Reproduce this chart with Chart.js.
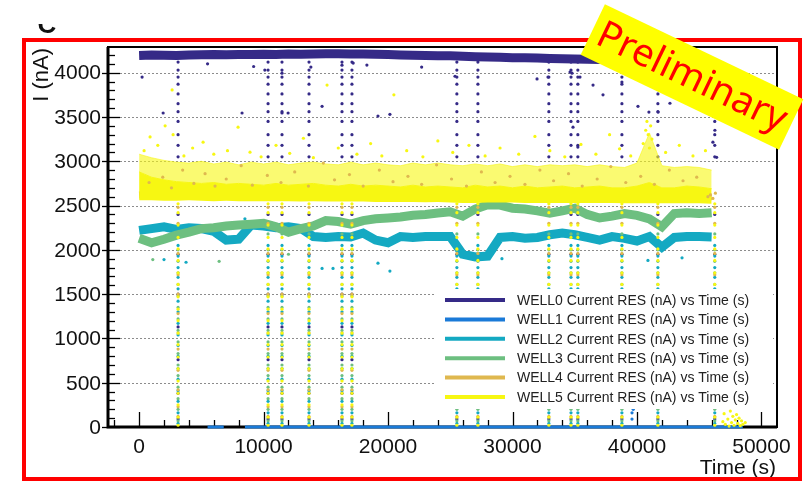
<!DOCTYPE html>
<html>
<head>
<meta charset="utf-8">
<script src="https://cdn.jsdelivr.net/npm/chart.js@4.4.0/dist/chart.umd.min.js"></script>
<style>
  html, body { margin: 0; padding: 0; background: #fff; }
  #wrap { width: 804px; height: 482px; }
</style>
</head>
<body>
<div id="wrap"><canvas id="well-chart" width="804" height="482"></canvas></div>
<script>
// time axis (s) for the main traces
const times = [0, 1000, 2000, 3000, 4000, 5000, 6000, 7000, 8000, 9000,
    10000, 11000, 12000, 13000, 14000, 15000, 16000, 17000, 18000, 19000,
    20000, 21000, 22000, 23000, 24000, 25000, 26000, 27000, 28000, 29000,
    30000, 31000, 32000, 33000, 34000, 35000, 36000, 37000, 38000, 39000,
    40000, 41000, 42000, 43000, 44000, 45000, 46000];

const well0 = [4195, 4200, 4198, 4195, 4200, 4202, 4205, 4203, 4206, 4205,
    4208, 4206, 4210, 4208, 4212, 4215, 4213, 4212, 4210, 4208,
    4205, 4200, 4198, 4195, 4192, 4190, 4185, 4180, 4178, 4175,
    4170, 4168, 4165, 4160, 4158, 4155, 4152, 4150, 4148, 4145,
    4145, 4142, 4140, 4138, 4135, 4132, 4130];

const well1Times = [5500, 6800, 7600, 8500, 20000, 30000, 40000, 48500];
const well1 = [0, 0, null, 0, 0, 0, 0, 0];

const well2 = [2220, 2240, 2260, 2230, 2250, 2240, 2210, 2110, 2120, 2280,
    2270, 2250, 2260, 2240, 2150, 2140, 2150, 2145, 2190, 2110,
    2080, 2150, 2140, 2150, 2150, 2150, 1950, 1920, 1930, 2140,
    2150, 2130, 2140, 2170, 2190, 2170, 2140, 2110, 2150, 2130,
    2100, 2150, 2030, 2140, 2150, 2150, 2145];

const well3 = [2130, 2080, 2120, 2166, 2200, 2240, 2250, 2270, 2280, 2290,
    2300, 2260, 2200, 2240, 2270, 2330, 2320, 2290, 2330, 2350,
    2360, 2370, 2390, 2400, 2415, 2430, 2380, 2460, 2510, 2505,
    2470, 2460, 2440, 2415, 2440, 2470, 2400, 2360, 2380, 2410,
    2390, 2350, 2260, 2410, 2420, 2410, 2420];

const well4 = [2620, 2630, 2620, 2610, 2620, 2615, 2620, 2610, 2615, 2620,
    2610, 2615, 2610, 2605, 2610, 2615, 2605, 2610, 2600, 2605,
    2600, 2600, 2605, 2595, 2600, 2595, 2590, 2600, 2595, 2590,
    2590, 2595, 2590, 2585, 2590, 2585, 2590, 2585, 2580, 2585,
    2580, 2590, 2580, 2585, 2580, 2590, 2600];

// WELL5: bottom and top of the dense band, top of the sparse cloud
const well5Low = [2560, 2560, 2555, 2555, 2560, 2555, 2550, 2555, 2550, 2550,
    2550, 2548, 2550, 2545, 2548, 2545, 2545, 2545, 2545, 2540,
    2540, 2540, 2540, 2538, 2540, 2535, 2530, 2530, 2535, 2535,
    2535, 2530, 2530, 2530, 2530, 2530, 2528, 2528, 2528, 2525,
    2525, 2525, 2525, 2525, 2525, 2525, 2520];
const well5High = [2880, 2820, 2790, 2770, 2760, 2750, 2760, 2740, 2750, 2740,
    2730, 2750, 2730, 2740, 2750, 2730, 2720, 2740, 2720, 2730,
    2720, 2710, 2730, 2710, 2720, 2710, 2700, 2730, 2710, 2720,
    2700, 2720, 2700, 2710, 2720, 2700, 2710, 2720, 2700, 2700,
    2720, 2760, 2700, 2700, 2720, 2710, 2690];
const well5Cloud = [3080, 3040, 3010, 2990, 2980, 3000, 2970, 2990, 2960, 2990,
    2970, 2990, 2960, 2980, 2990, 2970, 2960, 2990, 2960, 2980,
    2960, 2950, 2980, 2960, 2980, 2960, 2950, 2970, 2950, 2970,
    2940, 2960, 2940, 2960, 2950, 2960, 2940, 2960, 2940, 2930,
    2980, 3320, 2950, 2930, 2940, 2930, 2900];

// dropout streaks (s) and the levels seen along each streak
const dropTimes = [3130, 10360, 11480, 13650, 16300, 17100, 25530, 27220,
    32920, 34700, 35250, 38790, 41680, 46250];
const well0Drop = [4120, 4030, 3950, 3870, 3760, 3650, 3560, 3450, 3300, 3180,
    3050, 2400, 1950, 1500, 1130, 760, 380, 90];
const well2Drop = [2050, 1930, 1800, 1690, 1560, 1420, 1300, 1170, 1040, 920,
    800, 660, 540, 410, 290, 160, 40];
const well3Drop = [2180, 2000, 1870, 1740, 1610, 1480, 1350, 1220, 1090, 960,
    830, 700, 580, 450, 320, 200, 70];
const well4Drop = [2480, 2300, 1960, 1720, 1500, 1280, 1060, 880, 640, 420, 230, 120];
const well5Drop = [2520, 2420, 2280, 2140, 2010, 1880, 1740, 1610, 1470, 1330,
    1200, 1060, 930, 790, 660, 520, 380, 250, 110, 20];

// isolated points
const well0OutT = [240, 5500, 9200, 10100, 11480, 13800, 16300, 17200, 18300, 22700,
    25380, 1930, 8270, 11480, 11970, 14700, 19190, 20150, 31970, 32850,
    34780, 35420, 34620, 36470, 37270, 38790, 40080, 40960, 41700, 42650,
    34860, 35250, 46260, 46100, 46400];
const well0OutV = [3950, 4100, 4070, 4030, 3995, 4063, 4085, 4108, 4086, 4063,
    3960, 3545, 3545, 3545, 3545, 3620, 3510, 3530, 3930, 3950,
    3995, 3950, 4007, 3860, 3750, 3895, 3620, 3555, 3555, 3655,
    3385, 3160, 3350, 3216, 3045];
const well1OutT = [39600, 39600, 39700];
const well1OutV = [90, 160, 200];
const well2OutT = [2000, 3770, 14700, 15580, 19190, 20150, 29150, 40880, 43620, 8500, 24000];
const well2OutV = [1890, 1860, 1790, 1790, 1850, 1760, 1900, 1880, 1910, 2350, 2400];
const well3OutT = [1100, 6430, 12000];
const well3OutV = [1890, 1870, 1950];
const well4OutT = [800, 1900, 2600, 3500, 4400, 5300, 6100, 7000, 8200, 9100,
    10300, 11400, 12500, 13600, 14800, 15700, 16900, 18000, 19300, 20400,
    21600, 22700, 23900, 25100, 26300, 27500, 28600, 29800, 31000, 32200,
    33300, 34500, 35600, 36800, 37900, 39100, 40300, 41400, 42600, 43700,
    44800, 45700, 45900, 46100, 46300];
const well4OutV = [2760, 2820, 2700, 2900, 2750, 2860, 2720, 2800, 2950, 2730,
    2840, 2760, 2880, 2720, 2980, 2790, 2850, 2720, 2900, 2770,
    2830, 2740, 2960, 2800, 2720, 2880, 2760, 2830, 2740, 2900,
    2780, 2860, 2720, 2800, 2940, 2760, 2830, 2740, 2900, 2780,
    2820, 2600, 2620, 2580, 2640];
const well5OutT = [400, 880, 1500, 2090, 2650, 2730, 3600, 4300, 5140, 6000,
    7100, 7950, 8910, 9800, 11000, 12100, 13200, 14000, 15100, 16000,
    17500, 18600, 19500, 20470, 21500, 22800, 24000, 25200, 26500, 27800,
    29000, 30500, 31800, 33000, 34200, 35500, 36700, 37800, 38600, 39500,
    40500, 40700, 40800, 40900, 41000, 41100, 41200, 42300, 43400, 44500,
    45500, 46900, 47000, 47100, 47200, 47300, 47400, 47500, 47600, 47700,
    47800, 47900, 48000, 48100, 48200, 48300, 48400, 48500, 48700, 47350, 47050];
const well5OutV = [3120, 3275, 3180, 3400, 3805, 3300, 3060, 3150, 3216, 3080,
    3120, 3385, 3103, 3050, 3180, 3090, 3260, 3040, 3860, 3150,
    3080, 3200, 3060, 3750, 3120, 3050, 3230, 3100, 3180, 3060,
    3150, 3080, 3280, 3120, 3050, 3190, 3080, 3300, 3140, 3060,
    3200, 3350, 3450, 3300, 3150, 3400, 3250, 3100, 3180, 3060,
    3120, 60, 150, 30, 240, 90, 10, 180, 50, 120,
    20, 80, 140, 40, 100, 15, 70, 30, 50, 300, 420];

const wellNames = ['WELL0', 'WELL1', 'WELL2', 'WELL3', 'WELL4', 'WELL5'];
const wellColors = ['#352a87', '#1a7ad8', '#14a9c2', '#6dbf80', '#dfb84f', '#f7f712'];

const yTicks = [0, 500, 1000, 1500, 2000, 2500, 3000, 3500, 4000];
const xTicks = [0, 10000, 20000, 30000, 40000, 50000];

function pts(ts, vs) {
    return ts.map((t, i) => ({ x: t, y: vs[i] }));
}

function streak(levels) {
    return dropTimes.flatMap(t => levels.map(v => ({ x: t, y: v })));
}

function band(label, data, color, width, order) {
    return {
        type: 'line', label, data, borderColor: color, borderWidth: width,
        pointRadius: 0, fill: false, order, clip: false,
    };
}

function dots(data, color, order) {
    return {
        type: 'scatter', data, backgroundColor: color, pointRadius: 1.6,
        pointBorderWidth: 0, order, clip: false,
    };
}

const datasets = [
    band('w5low', pts(times, well5Low), 'rgba(0,0,0,0)', 0, 0),
    { ...band('w5high', pts(times, well5High), wellColors[5], 1, 0), fill: '-1', backgroundColor: wellColors[5] },
    { ...band('w5cloud', pts(times, well5Cloud), 'rgba(247,247,18,0.6)', 1, 0), fill: '-1', backgroundColor: 'rgba(247,247,18,0.6)' },
    dots(pts(well5OutT, well5OutV), wellColors[5], 0),
    dots(streak(well5Drop), wellColors[5], 0),

    dots(pts(well4OutT, well4OutV), wellColors[4], -1),
    band('w4', pts(times, well4), wellColors[4], 7, 1),
    dots(streak(well4Drop), wellColors[4], 1),

    band('w3', pts(times, well3), wellColors[3], 9, 2),
    dots(pts(well3OutT, well3OutV), wellColors[3], 2),
    dots(streak(well3Drop), wellColors[3], 2),

    band('w2', pts(times, well2), wellColors[2], 9, 3),
    dots(pts(well2OutT, well2OutV), wellColors[2], 3),
    dots(streak(well2Drop), wellColors[2], 3),

    band('w1', pts(well1Times, well1), wellColors[1], 3, 4),
    dots(pts(well1OutT, well1OutV), wellColors[1], 4),

    band('w0', pts(times, well0), wellColors[0], 9, 5),
    dots(pts(well0OutT, well0OutV), wellColors[0], 5),
    dots(streak(well0Drop), wellColors[0], 5),
];

const FONT = '"Liberation Sans", Arial, sans-serif';

const decorations = {
    id: 'decorations',
    beforeDatasetsDraw(chart) {
        const { ctx, chartArea: a, scales: { x, y } } = chart;
        ctx.save();
        // dotted grid
        ctx.strokeStyle = '#8c8c8c';
        ctx.lineWidth = 1;
        ctx.setLineDash([2, 2]);
        yTicks.forEach(v => {
            if (v === 0) return;
            const py = Math.round(y.getPixelForValue(v)) + 0.5;
            ctx.beginPath(); ctx.moveTo(a.left, py); ctx.lineTo(a.right, py); ctx.stroke();
        });
        ctx.setLineDash([]);

        // ticks
        ctx.strokeStyle = '#000';
        ctx.lineWidth = 1.3;
        for (let v = 0; v <= 4200; v += 100) {
            const py = Math.round(y.getPixelForValue(v)) + 0.5;
            const major = v % 500 === 0;
            ctx.beginPath();
            ctx.moveTo(major ? a.left - 6 : a.left, py);
            ctx.lineTo(a.left + (major ? 12 : 7), py);
            ctx.stroke();
        }
        for (let v = -2000; v <= 50000; v += 2000) {
            const px = Math.round(x.getPixelForValue(v)) + 0.5;
            const major = v % 10000 === 0;
            ctx.beginPath();
            ctx.moveTo(px, a.bottom);
            ctx.lineTo(px, a.bottom - (major ? 15 : 7));
            ctx.stroke();
        }

        // frame
        ctx.lineWidth = 2;
        ctx.strokeRect(a.left, a.top, a.right - a.left, a.bottom - a.top);
        ctx.lineWidth = 3;
        ctx.beginPath();
        ctx.moveTo(a.left, a.top); ctx.lineTo(a.left, a.bottom); ctx.lineTo(a.right, a.bottom);
        ctx.stroke();
        ctx.restore();
    },
    afterDatasetsDraw(chart) {
        const { ctx } = chart;
        ctx.save();
        // legend box
        ctx.fillStyle = '#fff';
        ctx.fillRect(436, 289, 337, 120);
        ctx.font = '14px ' + FONT;
        ctx.textBaseline = 'middle';
        wellNames.forEach((name, i) => {
            const ly = 300 + i * 19.4;
            ctx.strokeStyle = wellColors[i];
            ctx.lineWidth = 4;
            ctx.beginPath(); ctx.moveTo(445, ly); ctx.lineTo(505, ly); ctx.stroke();
            ctx.fillStyle = '#222';
            ctx.fillText(name + ' Current RES (nA) vs Time (s)', 517, ly + 1);
        });
        ctx.restore();
    },
    afterDraw(chart) {
        const { ctx, scales: { x, y } } = chart;
        ctx.save();
        ctx.fillStyle = '#111';
        ctx.font = '21px ' + FONT;
        ctx.textAlign = 'right';
        ctx.textBaseline = 'middle';
        yTicks.forEach(v => ctx.fillText(String(v), 101, y.getPixelForValue(v) + 1));
        ctx.textAlign = 'center';
        xTicks.forEach(v => ctx.fillText(String(v), x.getPixelForValue(v), 447));

        ctx.textAlign = 'right';
        ctx.fillText('Time (s)', 776, 468);
        ctx.save();
        ctx.translate(42, 48);
        ctx.rotate(-Math.PI / 2);
        ctx.font = '22px ' + FONT;
        ctx.fillText('I (nA)', 0, 0);
        ctx.restore();

        // clipped letter at the top
        ctx.save();
        ctx.beginPath(); ctx.rect(30, 24, 40, 12); ctx.clip();
        ctx.font = 'bold 26px ' + FONT;
        ctx.textAlign = 'center';
        ctx.textBaseline = 'alphabetic';
        ctx.fillText('C', 47, 33);
        ctx.restore();

        // red outline
        ctx.strokeStyle = '#ff0000';
        ctx.lineWidth = 4;
        ctx.strokeRect(24, 40, 776, 439);

        // Preliminary banner
        ctx.save();
        ctx.translate(692, 77);
        ctx.rotate(25.6 * Math.PI / 180);
        ctx.fillStyle = '#ffff00';
        ctx.fillRect(-110, -28, 220, 56);
        ctx.font = '42px "Noto Sans", "Open Sans", sans-serif';
        const w = ctx.measureText('Preliminary').width;
        const size = 42 * 206 / w;
        ctx.font = size.toFixed(1) + 'px "Noto Sans", "Open Sans", sans-serif';
        ctx.fillStyle = '#ff0000';
        ctx.textAlign = 'center';
        ctx.textBaseline = 'middle';
        ctx.fillText('Preliminary', 0, 1);
        ctx.restore();
        ctx.restore();
    },
};

const chartElm = document.getElementById('well-chart');
const wellChart = new Chart(chartElm.getContext('2d'), {
    type: 'scatter',
    data: { datasets },
    options: {
        responsive: false,
        animation: false,
        devicePixelRatio: 1,
        layout: { padding: { left: 108, right: 27, top: 47, bottom: 55 } },
        scales: {
            x: { type: 'linear', min: -2500, max: 51250, display: false },
            y: { type: 'linear', min: 0, max: 4290, display: false },
        },
        plugins: {
            legend: { display: false },
            tooltip: { enabled: false },
        },
    },
    plugins: [decorations],
});
</script>
</body>
</html>
